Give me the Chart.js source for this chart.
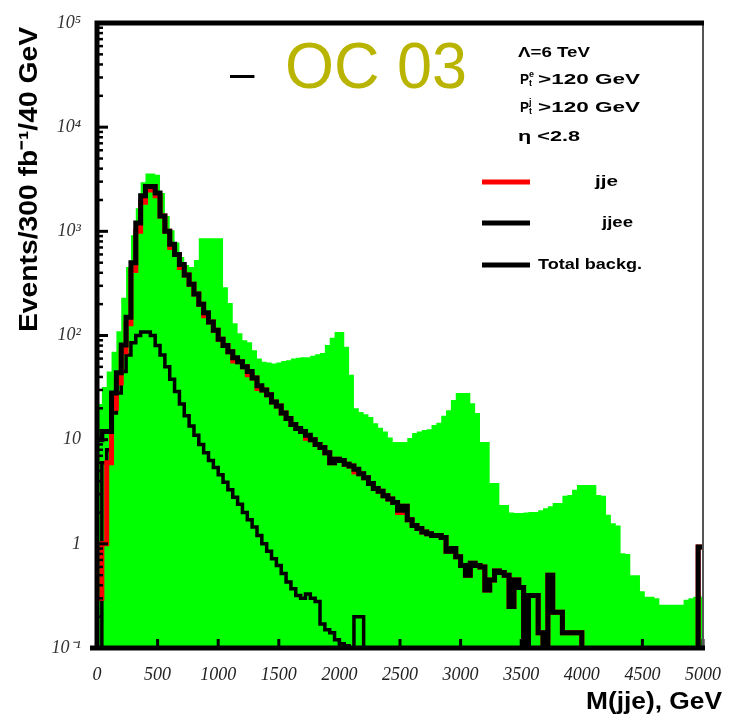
<!DOCTYPE html>
<html>
<head>
<meta charset="utf-8">
<script src="https://cdn.jsdelivr.net/npm/chart.js@4/dist/chart.umd.min.js"></script>
<style>
    body { margin: 0; background: #fff; }
    canvas { display: block; }
</style>
</head>
<body>
<canvas id="chart" width="729" height="721"></canvas>
<script>
// 40 GeV bins from 0 to 5000 GeV
const bin_width = 40;

// signal + background (green filled)
const green_signal = [
    22, 32, 45, 70, 110, 230, 454, 918, 1670, 2965,
    3600, 3600, 3500, 2330, 1400, 1025, 780, 566, 474, 454,
    530, 860, 860, 860, 860, 860, 291, 205, 131, 105,
    90, 86, 72, 60, 56, 55, 54, 55, 57, 58,
    60, 61, 62, 62, 64, 66, 68, 81, 95, 108,
    108, 78, 42, 20, 18.4, 17.5, 16.5, 14.4, 13, 12,
    10.5, 9.5, 9.5, 9.5, 10.4, 11.6, 12, 12.4, 12.6, 13.8,
    14.5, 17, 19.2, 24, 28, 28, 28, 22.4, 18, 9.5,
    9.5, 3.83, 3.83, 2.36, 2.36, 2.0, 1.98, 1.98, 2.0, 2.02,
    2.02, 2.1, 2.2, 2.3, 2.46, 2.46, 2.9, 2.94, 3.3, 3.67,
    3.67, 3.67, 3.67, 2.94, 2.9, 1.9, 1.58, 1.5, 0.81, 0.8,
    0.5, 0.5, 0.35, 0.31, 0.31, 0.3, 0.26, 0.26, 0.26, 0.26,
    0.26, 0.29, 0.3, 0.31, 0.31
];

// jje background (red), mostly hidden under the total
const jje_values = [
    0.3, 1, 6, 20, 35, 70, 130, 420, 1000, 1900,
    2500, 2700, 2200, 1400, 1000, 700, 600, 450, 380, 310,
    250, 200, 155, 135, 112, 92, 80, 70, 57, 56,
    50, 42, 39, 31, 30, 27, 23, 21, 18, 16,
    14, 12.8, 12, 10.3, 10, 9, 8.4, 7.5, 6.0, 6.5,
    6.3, 5.8, 5.6, 4.9, 4.7, 4.3, 3.8, 3.4, 3.2, 2.9,
    2.7, 2.5, 2.0, 2.3, 1.7, 1.5, 1.4, 1.3, 1.25, 1.2,
    1.2, 1.15, 0.85, 0.9, 0.75, 0.62, 0.5, 0.65, 0.62, 0.6,
    0.36, 0.45, 0.55, 0.53, 0.5, 0.25, 0.45, 0.38, 0.01, 0.32,
    0.32, 0.14, 0.01, 0.5, 0.22, 0.22, 0.14, 0.14, 0.14, 0.14,
    0.01, 0.01, 0.01, 0.01, 0.01, 0.01, 0.01, 0.01, 0.01, 0.01,
    0.01, 0.01, 0.01, 0.01, 0.01, 0.01, 0.01, 0.01, 0.01, 0.01,
    0.01, 0.01, 0.01, 0.01, 0.93
];

// jjee background (thin black)
const jjee_values = [
    0.01, 6, 8, 18, 28, 45, 65, 85, 100, 108,
    108, 100, 80, 65, 50, 38, 29, 22, 17, 13.5,
    11, 9, 7.5, 6.3, 5.4, 4.6, 3.9, 3.3, 2.8, 2.4,
    2.0, 1.7, 1.45, 1.2, 1.0, 0.85, 0.72, 0.62, 0.52, 0.43,
    0.37, 0.32, 0.3, 0.33, 0.3, 0.28, 0.17, 0.15, 0.14, 0.12,
    0.11, 0.105, 0.01, 0.2, 0.2, 0.01, 0.01, 0.01, 0.01, 0.01,
    0.01, 0.01, 0.01, 0.01, 0.01, 0.01, 0.01, 0.01, 0.01, 0.01,
    0.01, 0.01, 0.01, 0.01, 0.01, 0.01, 0.01, 0.01, 0.01, 0.01,
    0.01, 0.01, 0.01, 0.01, 0.01, 0.01, 0.01, 0.01, 0.01, 0.01,
    0.01, 0.01, 0.01, 0.01, 0.01, 0.01, 0.01, 0.01, 0.01, 0.01,
    0.01, 0.01, 0.01, 0.01, 0.01, 0.01, 0.01, 0.01, 0.01, 0.01,
    0.01, 0.01, 0.01, 0.01, 0.01, 0.01, 0.01, 0.01, 0.01, 0.01,
    0.01, 0.01, 0.01, 0.01, 0.01
];

// total background (thick black)
const total_values = [
    10, 12, 12, 28, 44, 81, 150, 500, 1200, 2200,
    2700, 2700, 2330, 1400, 1000, 750, 600, 480, 380, 310,
    250, 200, 165, 135, 112, 92, 80, 70, 61, 56,
    50, 45, 39, 33, 30, 27, 23, 21, 18, 16,
    14, 12.8, 12, 11, 10, 9, 8.4, 7.5, 6.0, 6.5,
    6.3, 5.8, 5.6, 5.2, 4.7, 4.3, 3.8, 3.4, 3.2, 2.9,
    2.7, 2.5, 2.1, 2.3, 1.7, 1.5, 1.4, 1.3, 1.25, 1.2,
    1.2, 1.15, 0.85, 0.9, 0.75, 0.62, 0.5, 0.65, 0.62, 0.6,
    0.36, 0.45, 0.55, 0.53, 0.5, 0.25, 0.45, 0.38, 0.01, 0.32,
    0.32, 0.14, 0.01, 0.5, 0.22, 0.22, 0.14, 0.14, 0.14, 0.14,
    0.01, 0.01, 0.01, 0.01, 0.01, 0.01, 0.01, 0.01, 0.01, 0.01,
    0.01, 0.01, 0.01, 0.01, 0.01, 0.01, 0.01, 0.01, 0.01, 0.01,
    0.01, 0.01, 0.01, 0.01, 0.93
];

const x_tick_values = [0, 500, 1000, 1500, 2000, 2500, 3000, 3500, 4000, 4500, 5000];
const y_tick_values = [0.1, 1, 10, 100, 1000, 10000, 100000];
const y_tick_labels = ['10\u207B\u00B9', '1', '10', '10\u00B2', '10\u00B3', '10\u2074', '10\u2075'];

const legend_items = [
    { label: 'jje', color: '#ff0000', text_x: 595, y: 182, width: 23 },
    { label: 'jjee', color: '#000000', text_x: 602, y: 223, width: 31 },
    { label: 'Total backg.', color: '#000000', text_x: 538, y: 265, width: 104 }
];

// histogram steps: one point per bin edge, last value repeated at 5000
// (Chart.js 'before' keeps the previous value until the next edge)
to_steps = (values) => {
    const points = values.map((v, i) => ({ x: i * bin_width, y: v }));
    points.push({ x: values.length * bin_width, y: values[values.length - 1] });
    return points;
};

// text squeezed/stretched to a given width
draw_fit = (ctx, text, x, y, width, font) => {
    ctx.save();
    ctx.font = font;
    const w = ctx.measureText(text).width;
    ctx.translate(x, y);
    ctx.scale(width / w, 1);
    ctx.fillText(text, 0, 0);
    ctx.restore();
};

const frame_plugin = {
    id: 'frame',
    afterDraw: chart => {
        const ctx = chart.ctx;
        const area = chart.chartArea;
        const x_scale = chart.scales.x;
        const y_scale = chart.scales.y;
        ctx.save();
        ctx.strokeStyle = '#000';
        ctx.fillStyle = '#000';

        // inward ticks on the y axis
        for (let d = -1; d < 5; d++) {
            for (let k = 1; k < 10; k++) {
                const py = y_scale.getPixelForValue(k * Math.pow(10, d));
                ctx.lineWidth = k === 1 ? 3 : 2.5;
                ctx.beginPath();
                ctx.moveTo(area.left, py);
                ctx.lineTo(area.left + (k === 1 ? 11 : 6), py);
                ctx.stroke();
            }
        }
        // inward ticks on the x axis
        ctx.lineWidth = 3;
        x_tick_values.forEach(v => {
            const px = x_scale.getPixelForValue(v);
            ctx.beginPath();
            ctx.moveTo(px, area.bottom);
            ctx.lineTo(px, area.bottom - 9);
            ctx.stroke();
        });

        // frame
        ctx.strokeStyle = '#555';
        ctx.lineWidth = 2;
        ctx.beginPath();
        ctx.moveTo(area.right, area.top);
        ctx.lineTo(area.right, area.bottom);
        ctx.stroke();
        ctx.strokeStyle = '#000';
        ctx.lineWidth = 5;
        ctx.beginPath();
        ctx.moveTo(area.left, area.bottom + 2);
        ctx.lineTo(area.left, area.top);
        ctx.lineTo(area.right + 1, area.top);
        ctx.stroke();
        ctx.beginPath();
        ctx.moveTo(area.left - 7, area.bottom);
        ctx.lineTo(area.right + 2, area.bottom);
        ctx.stroke();

        // axis titles
        ctx.save();
        ctx.translate(37, 180);
        ctx.rotate(-Math.PI / 2);
        ctx.textAlign = 'left';
        ctx.textBaseline = 'alphabetic';
        draw_fit(ctx, 'Events/300 fb\u207B\u00B9/40 GeV', -152, 0, 305, 'bold 26px "Liberation Sans"');
        ctx.restore();
        ctx.textBaseline = 'alphabetic';
        draw_fit(ctx, 'M(jje), GeV', 586, 709, 136, 'bold 24px "Liberation Sans"');

        // overlay label
        ctx.font = '44px "Liberation Sans"';
        ctx.fillText('\u2013', 230, 88);
        ctx.fillStyle = '#b9b400';
        draw_fit(ctx, 'OC 03', 285, 88, 182, '64px "Liberation Sans"');

        // cuts
        ctx.fillStyle = '#000';
        ctx.textBaseline = 'middle';
        const f = 'bold 15px "Liberation Sans"';
        draw_fit(ctx, '\u039B=6 TeV', 518, 53, 72, f);
        [[80, 'e'], [108, 'j']].forEach(([py, sup]) => {
            draw_fit(ctx, 'P', 520, py, 9, f);
            ctx.font = 'bold 9px "Liberation Sans"';
            ctx.fillText(sup, 529, py - 5);
            ctx.fillText('t', 529, py + 4);
            draw_fit(ctx, '>120 GeV', 538, py, 102, f);
        });
        draw_fit(ctx, '\u03B7 <2.8', 518, 137, 62, f);

        // legend
        legend_items.forEach(item => {
            ctx.strokeStyle = item.color;
            ctx.lineWidth = 5;
            ctx.beginPath();
            ctx.moveTo(482, item.y);
            ctx.lineTo(530, item.y);
            ctx.stroke();
            draw_fit(ctx, item.label, item.text_x, item.y, item.width, f);
        });
        ctx.restore();
    }
};

window.onload = () => {
    console.log('start');
    new Chart(document.getElementById('chart'), {
        type: 'line',
        data: {
            datasets: [
                {
                    label: 'Total backg.',
                    data: to_steps(total_values),
                    borderColor: '#000000',
                    borderWidth: 5,
                    stepped: 'before',
                    fill: false,
                    order: 1
                },
                {
                    label: 'jje',
                    data: to_steps(jje_values),
                    borderColor: '#ff0000',
                    borderWidth: 5,
                    stepped: 'before',
                    fill: false,
                    order: 2
                },
                {
                    label: 'jjee',
                    data: to_steps(jjee_values),
                    borderColor: '#000000',
                    borderWidth: 3.5,
                    stepped: 'before',
                    fill: false,
                    order: 3
                },
                {
                    label: 'signal',
                    data: to_steps(green_signal),
                    borderColor: '#00ff00',
                    borderWidth: 0,
                    backgroundColor: '#00ff00',
                    stepped: 'before',
                    fill: 'start',
                    order: 4
                }
            ]
        },
        options: {
            responsive: false,
            animation: false,
            layout: { padding: { top: 23, right: 26, left: 0, bottom: 0 } },
            elements: { point: { radius: 0 } },
            plugins: {
                legend: { display: false },
                tooltip: { enabled: false }
            },
            scales: {
                x: {
                    type: 'linear',
                    min: 0,
                    max: 5000,
                    grid: { display: false },
                    border: { display: false },
                    afterBuildTicks: axis => {
                        axis.ticks = x_tick_values.map(v => ({ value: v }));
                    },
                    ticks: {
                        autoSkip: false,
                        maxRotation: 0,
                        padding: 8,
                        color: '#222',
                        font: { family: 'Liberation Serif', style: 'italic', size: 18 },
                        callback: v => String(v)
                    },
                    afterFit: axis => { axis.height = 73; }
                },
                y: {
                    type: 'logarithmic',
                    min: 0.1,
                    max: 100000,
                    grid: { display: false },
                    border: { display: false },
                    afterBuildTicks: axis => {
                        axis.ticks = y_tick_values.map(v => ({ value: v }));
                    },
                    ticks: {
                        autoSkip: false,
                        padding: 8,
                        color: '#333',
                        font: { family: 'Liberation Serif', style: 'italic', size: 18 },
                        callback: (v, index) => y_tick_labels[index]
                    },
                    afterFit: axis => { axis.width = 97; }
                }
            }
        },
        plugins: [frame_plugin]
    });
};
</script>
</body>
</html>
